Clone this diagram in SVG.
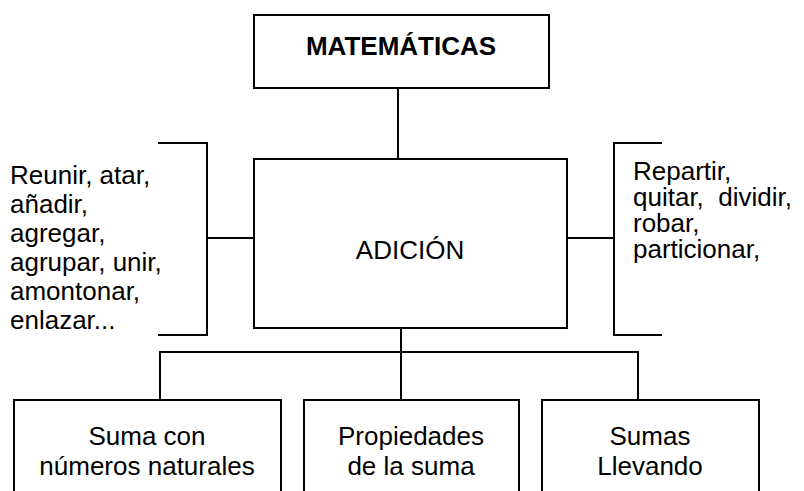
<svg xmlns="http://www.w3.org/2000/svg" width="804" height="491" viewBox="0 0 804 491">
<style>
.box{fill:#fff;stroke:#000;stroke-width:2}
.ln{fill:none;stroke:#000;stroke-width:2}
text{font-family:"Liberation Sans",Arial,sans-serif;font-size:26px;fill:#000}
.c{text-anchor:middle}
.b{font-weight:bold}
</style>
<rect width="804" height="491" fill="#fff"/>
<g id="connectors">
<line class="ln" x1="398" y1="88" x2="398" y2="159"/>
<line class="ln" x1="207" y1="238" x2="254" y2="238"/>
<line class="ln" x1="567" y1="238" x2="614" y2="238"/>
<polyline class="ln" points="158,143 207,143 207,335 158,335"/>
<polyline class="ln" points="662,143 614,143 614,335 662,335"/>
<line class="ln" x1="401" y1="328" x2="401" y2="400"/>
<line class="ln" x1="159" y1="352" x2="639" y2="352"/>
<line class="ln" x1="160" y1="352" x2="160" y2="400"/>
<line class="ln" x1="638" y1="352" x2="638" y2="400"/>
</g>
<g id="matematicas">
<rect class="box" x="254" y="15" width="295" height="73"/>
<text class="c b" x="401" y="55">MATEMÁTICAS</text>
</g>
<g id="adicion">
<rect class="box" x="254" y="159" width="313" height="169"/>
<text class="c" x="410" y="259">ADICIÓN</text>
</g>
<g id="unir">
<text x="10" y="184">Reunir, atar,</text>
<text x="10" y="213">añadir,</text>
<text x="10" y="242">agregar,</text>
<text x="10" y="271">agrupar, unir,</text>
<text x="10" y="300">amontonar,</text>
<text x="10" y="329">enlazar...</text>
</g>
<g id="repartir">
<text x="633" y="180">Repartir,</text>
<text x="633" y="206" xml:space="preserve">quitar,  dividir,</text>
<text x="633" y="232">robar,</text>
<text x="633" y="258">particionar,</text>
</g>
<g id="suma-naturales">
<rect class="box" x="14" y="400" width="267" height="100"/>
<text class="c" x="147" y="445">Suma con</text>
<text class="c" x="147" y="475">números naturales</text>
</g>
<g id="propiedades">
<rect class="box" x="304" y="400" width="215" height="100"/>
<text class="c" x="411" y="445">Propiedades</text>
<text class="c" x="411" y="475">de la suma</text>
</g>
<g id="llevando">
<rect class="box" x="542" y="400" width="217" height="100"/>
<text class="c" x="650" y="445">Sumas</text>
<text class="c" x="650" y="475">Llevando</text>
</g>
</svg>
